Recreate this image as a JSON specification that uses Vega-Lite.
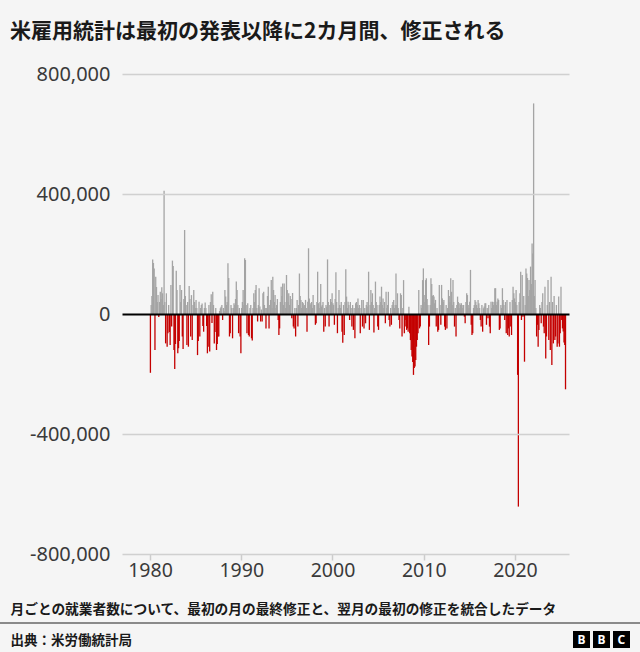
{
  "$schema": "https://vega.github.io/schema/vega-lite/v6.json",
  "width": 447,
  "height": 480,
  "autosize": {"type": "none"},
  "padding": {"left": 122, "top": 74, "right": 71, "bottom": 98},
  "background": "#f5f5f5",
  "title": {"text": "米雇用統計は最初の発表以降に2カ月間、修正される", "anchor": "start", "frame": "group", "dx": -112, "offset": 22, "font": "Noto Sans CJK JP", "fontSize": 21, "fontWeight": "bold", "color": "#1a1a1a"},
  "config": {"view": {"stroke": null}},
  "layer": [
    {
      "data": {
        "format": {"parse": {"d": "date:'%Y-%m'"}},
        "values": [
{"d":"1980-01","v":-196000},{"d":"1980-02","v":30000},{"d":"1980-03","v":60000},{"d":"1980-04","v":182000},{"d":"1980-05","v":170000},{"d":"1980-06","v":152000},{"d":"1980-07","v":-120000},{"d":"1980-08","v":124000},{"d":"1980-09","v":90000},{"d":"1980-10","v":40000},{"d":"1980-11","v":63000},{"d":"1980-12","v":-10000},
{"d":"1981-01","v":40000},{"d":"1981-02","v":74000},{"d":"1981-03","v":50000},{"d":"1981-04","v":89000},{"d":"1981-05","v":69000},{"d":"1981-06","v":30000},{"d":"1981-07","v":411000},{"d":"1981-08","v":40000},{"d":"1981-09","v":-98000},{"d":"1981-10","v":69000},{"d":"1981-11","v":-109000},{"d":"1981-12","v":-64000},
{"d":"1982-01","v":30000},{"d":"1982-02","v":-60000},{"d":"1982-03","v":-103000},{"d":"1982-04","v":97000},{"d":"1982-05","v":-42000},{"d":"1982-06","v":178000},{"d":"1982-07","v":160000},{"d":"1982-08","v":-120000},{"d":"1982-09","v":-183000},{"d":"1982-10","v":-100000},{"d":"1982-11","v":144000},{"d":"1982-12","v":80000},
{"d":"1983-01","v":-131000},{"d":"1983-02","v":-114000},{"d":"1983-03","v":-90000},{"d":"1983-04","v":97000},{"d":"1983-05","v":40000},{"d":"1983-06","v":80000},{"d":"1983-07","v":-75000},{"d":"1983-08","v":-117000},{"d":"1983-09","v":50000},{"d":"1983-10","v":280000},{"d":"1983-11","v":60000},{"d":"1983-12","v":30000},
{"d":"1984-01","v":-103000},{"d":"1984-02","v":40000},{"d":"1984-03","v":-109000},{"d":"1984-04","v":93000},{"d":"1984-05","v":50000},{"d":"1984-06","v":-75000},{"d":"1984-07","v":63000},{"d":"1984-08","v":-87000},{"d":"1984-09","v":30000},{"d":"1984-10","v":80000},{"d":"1984-11","v":40000},{"d":"1984-12","v":20000},
{"d":"1985-01","v":47000},{"d":"1985-02","v":20000},{"d":"1985-03","v":-137000},{"d":"1985-04","v":-90000},{"d":"1985-05","v":41000},{"d":"1985-06","v":-75000},{"d":"1985-07","v":20000},{"d":"1985-08","v":30000},{"d":"1985-09","v":35000},{"d":"1985-10","v":-40000},{"d":"1985-11","v":-59000},{"d":"1985-12","v":20000},
{"d":"1986-01","v":38000},{"d":"1986-02","v":20000},{"d":"1986-03","v":-40000},{"d":"1986-04","v":-131000},{"d":"1986-05","v":-109000},{"d":"1986-06","v":30000},{"d":"1986-07","v":-125000},{"d":"1986-08","v":40000},{"d":"1986-09","v":66000},{"d":"1986-10","v":-30000},{"d":"1986-11","v":74000},{"d":"1986-12","v":30000},
{"d":"1987-01","v":-98000},{"d":"1987-02","v":-60000},{"d":"1987-03","v":20000},{"d":"1987-04","v":-120000},{"d":"1987-05","v":-100000},{"d":"1987-06","v":-75000},{"d":"1987-07","v":-75000},{"d":"1987-08","v":10000},{"d":"1987-09","v":19000},{"d":"1987-10","v":24000},{"d":"1987-11","v":30000},{"d":"1987-12","v":-20000},
{"d":"1988-01","v":20000},{"d":"1988-02","v":10000},{"d":"1988-03","v":80000},{"d":"1988-04","v":58000},{"d":"1988-05","v":30000},{"d":"1988-06","v":40000},{"d":"1988-07","v":169000},{"d":"1988-08","v":120000},{"d":"1988-09","v":-75000},{"d":"1988-10","v":-64000},{"d":"1988-11","v":30000},{"d":"1988-12","v":20000},
{"d":"1989-01","v":-81000},{"d":"1989-02","v":20000},{"d":"1989-03","v":36000},{"d":"1989-04","v":30000},{"d":"1989-05","v":50000},{"d":"1989-06","v":108000},{"d":"1989-07","v":80000},{"d":"1989-08","v":30000},{"d":"1989-09","v":-64000},{"d":"1989-10","v":20000},{"d":"1989-11","v":-75000},{"d":"1989-12","v":-131000},
{"d":"1990-01","v":20000},{"d":"1990-02","v":40000},{"d":"1990-03","v":80000},{"d":"1990-04","v":30000},{"d":"1990-05","v":186000},{"d":"1990-06","v":180000},{"d":"1990-07","v":30000},{"d":"1990-08","v":-64000},{"d":"1990-09","v":36000},{"d":"1990-10","v":-70000},{"d":"1990-11","v":-75000},{"d":"1990-12","v":20000},
{"d":"1991-01","v":30000},{"d":"1991-02","v":-81000},{"d":"1991-03","v":-88000},{"d":"1991-04","v":20000},{"d":"1991-05","v":69000},{"d":"1991-06","v":40000},{"d":"1991-07","v":80000},{"d":"1991-08","v":97000},{"d":"1991-09","v":20000},{"d":"1991-10","v":-25000},{"d":"1991-11","v":30000},{"d":"1991-12","v":86000},
{"d":"1992-01","v":25000},{"d":"1992-02","v":-25000},{"d":"1992-03","v":15000},{"d":"1992-04","v":-25000},{"d":"1992-05","v":69000},{"d":"1992-06","v":74000},{"d":"1992-07","v":30000},{"d":"1992-08","v":20000},{"d":"1992-09","v":-48000},{"d":"1992-10","v":20000},{"d":"1992-11","v":60000},{"d":"1992-12","v":91000},
{"d":"1993-01","v":-48000},{"d":"1993-02","v":30000},{"d":"1993-03","v":47000},{"d":"1993-04","v":113000},{"d":"1993-05","v":20000},{"d":"1993-06","v":124000},{"d":"1993-07","v":80000},{"d":"1993-08","v":40000},{"d":"1993-09","v":63000},{"d":"1993-10","v":20000},{"d":"1993-11","v":30000},{"d":"1993-12","v":50000},
{"d":"1994-01","v":-20000},{"d":"1994-02","v":-70000},{"d":"1994-03","v":-48000},{"d":"1994-04","v":40000},{"d":"1994-05","v":91000},{"d":"1994-06","v":60000},{"d":"1994-07","v":102000},{"d":"1994-08","v":30000},{"d":"1994-09","v":102000},{"d":"1994-10","v":40000},{"d":"1994-11","v":20000},{"d":"1994-12","v":130000},
{"d":"1995-01","v":80000},{"d":"1995-02","v":40000},{"d":"1995-03","v":69000},{"d":"1995-04","v":30000},{"d":"1995-05","v":60000},{"d":"1995-06","v":50000},{"d":"1995-07","v":-14000},{"d":"1995-08","v":70000},{"d":"1995-09","v":-42000},{"d":"1995-10","v":-48000},{"d":"1995-11","v":20000},{"d":"1995-12","v":-75000},
{"d":"1996-01","v":20000},{"d":"1996-02","v":47000},{"d":"1996-03","v":-42000},{"d":"1996-04","v":30000},{"d":"1996-05","v":135000},{"d":"1996-06","v":60000},{"d":"1996-07","v":47000},{"d":"1996-08","v":20000},{"d":"1996-09","v":40000},{"d":"1996-10","v":36000},{"d":"1996-11","v":25000},{"d":"1996-12","v":30000},
{"d":"1997-01","v":47000},{"d":"1997-02","v":20000},{"d":"1997-03","v":-59000},{"d":"1997-04","v":41000},{"d":"1997-05","v":219000},{"d":"1997-06","v":52000},{"d":"1997-07","v":30000},{"d":"1997-08","v":36000},{"d":"1997-09","v":40000},{"d":"1997-10","v":20000},{"d":"1997-11","v":63000},{"d":"1997-12","v":30000},
{"d":"1998-01","v":30000},{"d":"1998-02","v":-36000},{"d":"1998-03","v":-31000},{"d":"1998-04","v":40000},{"d":"1998-05","v":141000},{"d":"1998-06","v":36000},{"d":"1998-07","v":20000},{"d":"1998-08","v":40000},{"d":"1998-09","v":100000},{"d":"1998-10","v":25000},{"d":"1998-11","v":30000},{"d":"1998-12","v":40000},
{"d":"1999-01","v":-59000},{"d":"1999-02","v":20000},{"d":"1999-03","v":-42000},{"d":"1999-04","v":30000},{"d":"1999-05","v":24000},{"d":"1999-06","v":182000},{"d":"1999-07","v":40000},{"d":"1999-08","v":-42000},{"d":"1999-09","v":30000},{"d":"1999-10","v":50000},{"d":"1999-11","v":40000},{"d":"1999-12","v":69000},
{"d":"2000-01","v":36000},{"d":"2000-02","v":30000},{"d":"2000-03","v":-36000},{"d":"2000-04","v":50000},{"d":"2000-05","v":139000},{"d":"2000-06","v":40000},{"d":"2000-07","v":-64000},{"d":"2000-08","v":20000},{"d":"2000-09","v":80000},{"d":"2000-10","v":30000},{"d":"2000-11","v":20000},{"d":"2000-12","v":40000},
{"d":"2001-01","v":-59000},{"d":"2001-02","v":-96000},{"d":"2001-03","v":30000},{"d":"2001-04","v":-70000},{"d":"2001-05","v":40000},{"d":"2001-06","v":149000},{"d":"2001-07","v":58000},{"d":"2001-08","v":20000},{"d":"2001-09","v":41000},{"d":"2001-10","v":30000},{"d":"2001-11","v":-20000},{"d":"2001-12","v":40000},
{"d":"2002-01","v":20000},{"d":"2002-02","v":-42000},{"d":"2002-03","v":30000},{"d":"2002-04","v":-53000},{"d":"2002-05","v":20000},{"d":"2002-06","v":-81000},{"d":"2002-07","v":36000},{"d":"2002-08","v":40000},{"d":"2002-09","v":30000},{"d":"2002-10","v":52000},{"d":"2002-11","v":20000},{"d":"2002-12","v":30000},
{"d":"2003-01","v":-64000},{"d":"2003-02","v":20000},{"d":"2003-03","v":47000},{"d":"2003-04","v":-42000},{"d":"2003-05","v":47000},{"d":"2003-06","v":-48000},{"d":"2003-07","v":20000},{"d":"2003-08","v":-31000},{"d":"2003-09","v":30000},{"d":"2003-10","v":40000},{"d":"2003-11","v":25000},{"d":"2003-12","v":141000},
{"d":"2004-01","v":-53000},{"d":"2004-02","v":30000},{"d":"2004-03","v":80000},{"d":"2004-04","v":40000},{"d":"2004-05","v":69000},{"d":"2004-06","v":30000},{"d":"2004-07","v":-62000},{"d":"2004-08","v":20000},{"d":"2004-09","v":108000},{"d":"2004-10","v":40000},{"d":"2004-11","v":30000},{"d":"2004-12","v":-42000},
{"d":"2005-01","v":-53000},{"d":"2005-02","v":30000},{"d":"2005-03","v":58000},{"d":"2005-04","v":40000},{"d":"2005-05","v":91000},{"d":"2005-06","v":30000},{"d":"2005-07","v":52000},{"d":"2005-08","v":20000},{"d":"2005-09","v":40000},{"d":"2005-10","v":-31000},{"d":"2005-11","v":74000},{"d":"2005-12","v":20000},
{"d":"2006-01","v":30000},{"d":"2006-02","v":74000},{"d":"2006-03","v":-20000},{"d":"2006-04","v":-42000},{"d":"2006-05","v":20000},{"d":"2006-06","v":-36000},{"d":"2006-07","v":30000},{"d":"2006-08","v":40000},{"d":"2006-09","v":47000},{"d":"2006-10","v":20000},{"d":"2006-11","v":30000},{"d":"2006-12","v":135000},
{"d":"2007-01","v":30000},{"d":"2007-02","v":69000},{"d":"2007-03","v":20000},{"d":"2007-04","v":-20000},{"d":"2007-05","v":-48000},{"d":"2007-06","v":69000},{"d":"2007-07","v":63000},{"d":"2007-08","v":-75000},{"d":"2007-09","v":20000},{"d":"2007-10","v":113000},{"d":"2007-11","v":-64000},{"d":"2007-12","v":-20000},
{"d":"2008-01","v":-42000},{"d":"2008-02","v":-53000},{"d":"2008-03","v":-48000},{"d":"2008-04","v":-59000},{"d":"2008-05","v":24000},{"d":"2008-06","v":-64000},{"d":"2008-07","v":-87000},{"d":"2008-08","v":-120000},{"d":"2008-09","v":-142000},{"d":"2008-10","v":-160000},{"d":"2008-11","v":-203000},{"d":"2008-12","v":-180000},
{"d":"2009-01","v":-175000},{"d":"2009-02","v":-153000},{"d":"2009-03","v":-109000},{"d":"2009-04","v":-87000},{"d":"2009-05","v":-64000},{"d":"2009-06","v":80000},{"d":"2009-07","v":-48000},{"d":"2009-08","v":-42000},{"d":"2009-09","v":30000},{"d":"2009-10","v":20000},{"d":"2009-11","v":113000},{"d":"2009-12","v":152000},
{"d":"2010-01","v":40000},{"d":"2010-02","v":63000},{"d":"2010-03","v":113000},{"d":"2010-04","v":119000},{"d":"2010-05","v":50000},{"d":"2010-06","v":30000},{"d":"2010-07","v":-103000},{"d":"2010-08","v":-42000},{"d":"2010-09","v":30000},{"d":"2010-10","v":119000},{"d":"2010-11","v":100000},{"d":"2010-12","v":60000},
{"d":"2011-01","v":63000},{"d":"2011-02","v":58000},{"d":"2011-03","v":36000},{"d":"2011-04","v":47000},{"d":"2011-05","v":-42000},{"d":"2011-06","v":20000},{"d":"2011-07","v":-59000},{"d":"2011-08","v":-53000},{"d":"2011-09","v":97000},{"d":"2011-10","v":30000},{"d":"2011-11","v":-36000},{"d":"2011-12","v":97000},
{"d":"2012-01","v":52000},{"d":"2012-02","v":40000},{"d":"2012-03","v":47000},{"d":"2012-04","v":-42000},{"d":"2012-05","v":-53000},{"d":"2012-06","v":30000},{"d":"2012-07","v":-48000},{"d":"2012-08","v":20000},{"d":"2012-09","v":80000},{"d":"2012-10","v":60000},{"d":"2012-11","v":40000},{"d":"2012-12","v":119000},
{"d":"2013-01","v":74000},{"d":"2013-02","v":30000},{"d":"2013-03","v":113000},{"d":"2013-04","v":40000},{"d":"2013-05","v":-42000},{"d":"2013-06","v":20000},{"d":"2013-07","v":-75000},{"d":"2013-08","v":30000},{"d":"2013-09","v":58000},{"d":"2013-10","v":40000},{"d":"2013-11","v":20000},{"d":"2013-12","v":36000},
{"d":"2014-01","v":30000},{"d":"2014-02","v":36000},{"d":"2014-03","v":30000},{"d":"2014-04","v":20000},{"d":"2014-05","v":30000},{"d":"2014-06","v":-9000},{"d":"2014-07","v":-31000},{"d":"2014-08","v":40000},{"d":"2014-09","v":69000},{"d":"2014-10","v":63000},{"d":"2014-11","v":30000},{"d":"2014-12","v":20000},
{"d":"2015-01","v":41000},{"d":"2015-02","v":147000},{"d":"2015-03","v":-36000},{"d":"2015-04","v":-70000},{"d":"2015-05","v":-64000},{"d":"2015-06","v":20000},{"d":"2015-07","v":30000},{"d":"2015-08","v":47000},{"d":"2015-09","v":41000},{"d":"2015-10","v":30000},{"d":"2015-11","v":20000},{"d":"2015-12","v":47000},
{"d":"2016-01","v":36000},{"d":"2016-02","v":20000},{"d":"2016-03","v":-20000},{"d":"2016-04","v":-42000},{"d":"2016-05","v":30000},{"d":"2016-06","v":-59000},{"d":"2016-07","v":19000},{"d":"2016-08","v":25000},{"d":"2016-09","v":36000},{"d":"2016-10","v":36000},{"d":"2016-11","v":-36000},{"d":"2016-12","v":20000},
{"d":"2017-01","v":-14000},{"d":"2017-02","v":30000},{"d":"2017-03","v":-42000},{"d":"2017-04","v":-64000},{"d":"2017-05","v":41000},{"d":"2017-06","v":20000},{"d":"2017-07","v":41000},{"d":"2017-08","v":30000},{"d":"2017-09","v":40000},{"d":"2017-10","v":86000},{"d":"2017-11","v":86000},{"d":"2017-12","v":30000},
{"d":"2018-01","v":41000},{"d":"2018-02","v":52000},{"d":"2018-03","v":47000},{"d":"2018-04","v":-53000},{"d":"2018-05","v":-48000},{"d":"2018-06","v":30000},{"d":"2018-07","v":20000},{"d":"2018-08","v":86000},{"d":"2018-09","v":47000},{"d":"2018-10","v":30000},{"d":"2018-11","v":-20000},{"d":"2018-12","v":40000},
{"d":"2019-01","v":-64000},{"d":"2019-02","v":47000},{"d":"2019-03","v":-70000},{"d":"2019-04","v":-48000},{"d":"2019-05","v":-75000},{"d":"2019-06","v":40000},{"d":"2019-07","v":-42000},{"d":"2019-08","v":-70000},{"d":"2019-09","v":47000},{"d":"2019-10","v":91000},{"d":"2019-11","v":69000},{"d":"2019-12","v":52000},
{"d":"2020-01","v":40000},{"d":"2020-02","v":80000},{"d":"2020-03","v":30000},{"d":"2020-04","v":-203000},{"d":"2020-05","v":-642000},{"d":"2020-06","v":40000},{"d":"2020-07","v":69000},{"d":"2020-08","v":141000},{"d":"2020-09","v":-20000},{"d":"2020-10","v":130000},{"d":"2020-11","v":-9000},{"d":"2020-12","v":60000},
{"d":"2021-01","v":-159000},{"d":"2021-02","v":30000},{"d":"2021-03","v":152000},{"d":"2021-04","v":135000},{"d":"2021-05","v":120000},{"d":"2021-06","v":60000},{"d":"2021-07","v":113000},{"d":"2021-08","v":80000},{"d":"2021-09","v":158000},{"d":"2021-10","v":100000},{"d":"2021-11","v":235000},{"d":"2021-12","v":202000},
{"d":"2022-01","v":702000},{"d":"2022-02","v":60000},{"d":"2022-03","v":113000},{"d":"2022-04","v":20000},{"d":"2022-05","v":-75000},{"d":"2022-06","v":-36000},{"d":"2022-07","v":-109000},{"d":"2022-08","v":-53000},{"d":"2022-09","v":30000},{"d":"2022-10","v":20000},{"d":"2022-11","v":-31000},{"d":"2022-12","v":40000},
{"d":"2023-01","v":69000},{"d":"2023-02","v":-42000},{"d":"2023-03","v":-64000},{"d":"2023-04","v":91000},{"d":"2023-05","v":-148000},{"d":"2023-06","v":-75000},{"d":"2023-07","v":30000},{"d":"2023-08","v":113000},{"d":"2023-09","v":-87000},{"d":"2023-10","v":40000},{"d":"2023-11","v":-120000},{"d":"2023-12","v":124000},
{"d":"2024-01","v":-170000},{"d":"2024-02","v":40000},{"d":"2024-03","v":-98000},{"d":"2024-04","v":60000},{"d":"2024-05","v":-87000},{"d":"2024-06","v":-75000},{"d":"2024-07","v":30000},{"d":"2024-08","v":-109000},{"d":"2024-09","v":-98000},{"d":"2024-10","v":58000},{"d":"2024-11","v":-109000},{"d":"2024-12","v":-64000},
{"d":"2025-01","v":91000},{"d":"2025-02","v":-20000},{"d":"2025-03","v":-48000},{"d":"2025-04","v":-58000},{"d":"2025-05","v":-95000},{"d":"2025-06","v":-103000},{"d":"2025-07","v":-251000}
        ]
      },
      "mark": {"type": "bar", "width": 1.3},
      "encoding": {
        "x": {
          "field": "d", "timeUnit": "yearmonth", "type": "temporal",
          "scale": {"domain": [{"year": 1976, "month": 12, "date": 5}, {"year": 2025, "month": 12, "date": 3}]},
          "axis": {
            "values": [{"year": 1980}, {"year": 1990}, {"year": 2000}, {"year": 2010}, {"year": 2020}],
            "format": "%Y", "grid": false, "domain": false, "ticks": true, "tickSize": 6, "tickColor": "#cccccc", "tickWidth": 1.5,
            "labelFont": "Noto Sans", "labelFontSize": 19.5, "labelColor": "#3a3a3a", "labelPadding": 1, "labelFlush": false, "labelOverlap": false,
            "title": "月ごとの就業者数について、最初の月の最終修正と、翌月の最初の修正を統合したデータ",
            "titleFont": "Noto Sans CJK JP", "titleFontSize": 13.7, "titleFontWeight": "bold", "titleColor": "#1a1a1a",
            "titleAlign": "left", "titleBaseline": "middle", "titleX": -112, "titleY": 55
          }
        },
        "y": {
          "field": "v", "type": "quantitative",
          "scale": {"domain": [-800000, 800000], "nice": false},
          "axis": {
            "values": [-800000, -400000, 0, 400000, 800000],
            "labelExpr": "replace(format(datum.value, ','), '−', '-')",
            "grid": true,
            "gridColor": {"condition": {"test": "datum.value === 0", "value": "#000000"}, "value": "#d0d0d0"},
            "gridWidth": {"condition": {"test": "datum.value === 0", "value": 2.2}, "value": 1.5},
            "ticks": false, "domain": false, "zindex": 1,
            "labelFont": "Noto Sans", "labelFontSize": 20, "labelColor": "#3a3a3a", "labelPadding": 12,
            "title": "出典：米労働統計局",
            "titleFont": "Noto Sans CJK JP", "titleFontSize": 13.5, "titleFontWeight": "bold", "titleColor": "#1a1a1a",
            "titleAngle": 0, "titleAlign": "left", "titleBaseline": "middle", "titleX": -112, "titleY": 566
          }
        },
        "color": {"condition": {"test": "datum.v < 0", "value": "#c40000"}, "value": "#a4a4a4"}
      }
    },
    {
      "data": {"values": [{}]},
      "mark": {"type": "rule", "color": "#8a8a8a", "strokeWidth": 2},
      "encoding": {
        "x": {"datum": {"year": 1963, "month": 7}, "type": "temporal", "axis": {"title": "月ごとの就業者数について、最初の月の最終修正と、翌月の最初の修正を統合したデータ"}},
        "x2": {"datum": {"year": 2034, "month": 1}},
        "y": {"datum": -1030000, "type": "quantitative", "axis": {"title": "出典：米労働統計局"}}
      }
    },
    {
      "data": {"values": [{"k": "B1"}, {"k": "B2"}, {"k": "C"}]},
      "mark": {"type": "point", "filled": true, "opacity": 0, "color": "#000000"},
      "encoding": {
        "shape": {
          "field": "k", "type": "nominal",
          "scale": {"range": ["square", "square", "square"]},
          "legend": {
            "orient": "none", "legendX": 451, "legendY": 557, "direction": "horizontal", "title": null,
            "symbolSize": 289, "symbolType": "square", "symbolFillColor": "#111111", "symbolStrokeWidth": 0, "symbolOpacity": 1,
            "labelColor": "#ffffff", "labelFont": "Noto Sans", "labelFontWeight": "bold", "labelFontSize": 12, "labelOffset": -12.5,
            "columnPadding": 3, "padding": 0,
            "labelExpr": "datum.label == 'C' ? 'C' : 'B'"
          }
        }
      }
    }
  ]
}
